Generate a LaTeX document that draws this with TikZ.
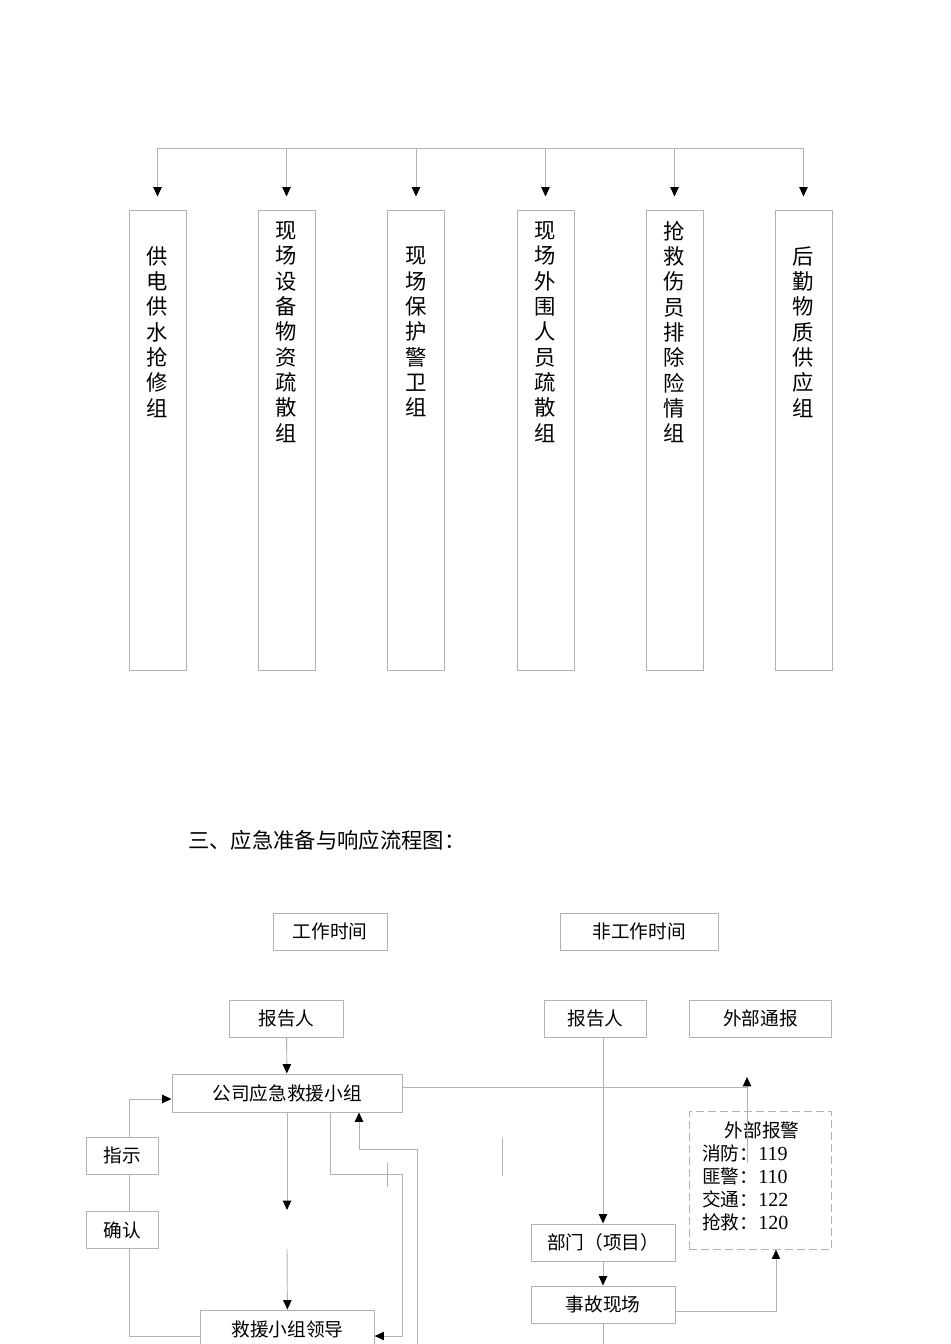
\documentclass[tikz,border=0pt]{standalone}
\usepackage{fontspec}
\setmainfont{Liberation Serif}
\newfontfamily\cjk{Noto Sans CJK SC}
\usetikzlibrary{arrows.meta}
\def\tel#1{{\rmfamily\fontsize{15}{17.25}\selectfont #1}}
\begin{document}
\begin{tikzpicture}[x=0.75pt,y=-0.75pt,>={Triangle[length=7pt,width=6.25pt,color=black]},line join=round,
	font=\cjk\fontsize{14}{17}\selectfont,
	ln/.style={draw=black!30,line width=0.7pt},
	box/.style={draw=black!30,line width=0.7pt,minimum height=27.75pt,inner sep=0pt},
	col/.style={draw=black!30,line width=0.7pt,minimum width=42.75pt,minimum height=345pt,inner sep=0pt},
	coltext/.style={align=center,inner sep=0pt,font=\cjk\fontsize{16}{19}\selectfont}]
		\useasboundingbox (0,0) rectangle (950,1344);
		\clip (0,0) rectangle (950,1344);
		% groups
		\foreach \x/\t [count=\i] in {157.5/{供\\电\\供\\水\\抢\\修\\组},286.5/{现\\场\\设\\备\\物\\资\\疏\\散\\组},416/{现\\场\\保\\护\\警\\卫\\组},545.5/{现\\场\\外\\围\\人\\员\\疏\\散\\组},674.5/{抢\\救\\伤\\员\\排\\除\\险\\情\\组},803.5/{后\\勤\\物\\质\\供\\应\\组}}{
			\coordinate (b\i) at (\x,148);
			\node[col] (g\i) at (\x,440) {};
			\node[coltext] (g\i t) at (\x,332) {\t};
			\draw[ln,->,shorten >=9.75pt] (b\i) -- (g\i);
		}
		\draw[ln] (b1) -- (b6);
		% flow chart
		\node[anchor=west,inner sep=0pt,font=\cjk\fontsize{16}{19}\selectfont] (title) at (188,840) {三、应急准备与响应流程图：};
		\node[box,minimum width=85.5pt] (work) at (330,931.5) {工作时间};
		\node[box,minimum width=118.5pt] (nwork) at (639,931.5) {非工作时间};
		\node[box,minimum width=86pt] (rep1) at (286.5,1018.5) {报告人};
		\node[box,minimum width=76pt] (rep2) at (595.5,1018.5) {报告人};
		\node[box,minimum width=107pt] (ext) at (760.5,1018.5) {外部通报};
		\node[box,minimum width=172.5pt,minimum height=28.5pt] (team) at (287,1093) {公司应急救援小组};
		\node[box,minimum width=54pt] (zs) at (122,1155.5) {指示};
		\node[box,minimum width=54pt] (qr) at (122,1230) {确认};
		\node[box,minimum width=130pt,minimum height=28.5pt] (lead) at (287.5,1329) {救援小组领导};
		\node[box,dash pattern=on 6pt off 3pt,minimum width=107pt,minimum height=103pt] (alarm) at (760.5,1180.5) {};
		\node[inner sep=0pt] (alarmt) at (762,1130) {外部报警};
		\node[anchor=north west,align=left,inner sep=0pt,font=\cjk\fontsize{14}{17.25}\selectfont] (alarml) at (702,1145) {消防：\tel{119}\\匪警：\tel{110}\\交通：\tel{122}\\抢救：\tel{120}};
		\node[box,minimum width=108pt] (dept) at (603,1242.5) {部门（项目）};
		\node[box,minimum width=108pt] (site) at (603,1304.5) {事故现场};
		\coordinate (up) at (747,1077);
		\coordinate (upb) at (747,1163);
		\coordinate (m1) at (287,1210);
		\coordinate (m2) at (287,1249);
		\coordinate (r1) at (402,1174);
		\coordinate (r2) at (417,1350);
		\coordinate (r3) at (359,1149);
		\coordinate (sb) at (604,1350);
		\draw[ln,->] (rep1) -- (team);
		\draw[ln] ([yshift=4.5pt]team.east) coordinate (tr) -- (tr -| up);
		\draw[ln,->] (upb) -- (up);
		\draw[ln,->] (rep2.south -| dept) -- (dept);
		\draw[ln,->] (dept) -- (site);
		\draw[ln,->] ([yshift=-4.9pt]site.east) -| ([xshift=11.6pt]alarm.south);
		\draw[ln] (site) -- (site |- sb);
		\draw[ln,->] ([xshift=5.25pt]zs.north) |- ([yshift=-4.5pt]team.west);
		\draw[ln] ([xshift=5.25pt]zs.south) -- ([xshift=5.25pt]qr.north);
		\draw[ln] ([xshift=5.25pt]qr.south) |- ([yshift=-5.25pt]lead.west);
		\draw[ln,->] (team) -- (m1);
		\draw[ln,->] (m2) -- (lead);
		\draw[ln,->] ([xshift=32.25pt]team.south) |- (r1) |- ([yshift=-5.25pt]lead.east);
		\draw[ln,->] (r2) |- (r3) -- (r3 |- team.south);
		\draw[ln] (387,1163) -- (387,1187);
		\draw[ln] (502,1138) -- (502,1176);
\end{tikzpicture}
\end{document}
